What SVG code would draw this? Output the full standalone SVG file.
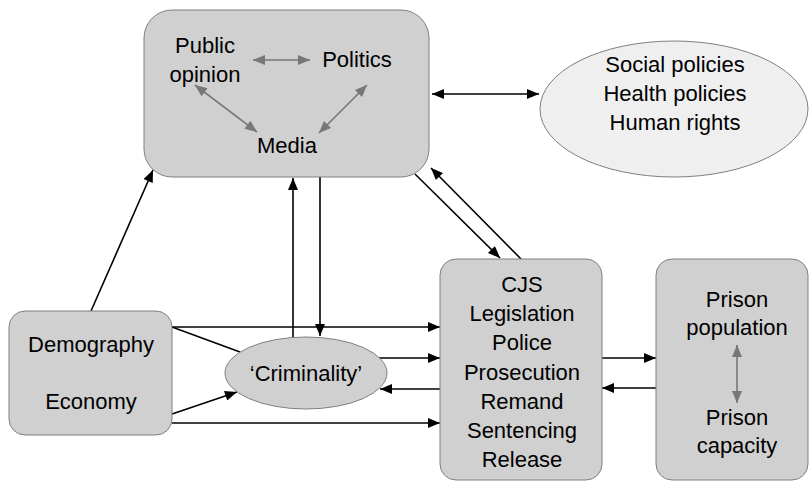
<svg xmlns="http://www.w3.org/2000/svg" width="810" height="482" viewBox="0 0 810 482">
<defs>
<style>
.box{fill:#d0d0d0;stroke:#7f7f7f;stroke-width:1}
.ell{fill:#efefef;stroke:#7f7f7f;stroke-width:1}
.t{font-family:"Liberation Sans",Arial,sans-serif;font-size:22px;fill:#000;text-anchor:middle}
.c{stroke:#000;stroke-width:1.6;fill:none}
.g{stroke:#777;stroke-width:1.6;fill:none}
</style>
<marker id="ab" viewBox="0 0 12 10" refX="12" refY="5" markerWidth="14" markerHeight="10" markerUnits="userSpaceOnUse" orient="auto-start-reverse"><path d="M0,0 L12,5 L0,10 z" fill="#000"/></marker>
<marker id="ag" viewBox="0 0 12 10" refX="12" refY="5" markerWidth="14" markerHeight="10" markerUnits="userSpaceOnUse" orient="auto-start-reverse"><path d="M0,0 L12,5 L0,10 z" fill="#777"/></marker>
</defs>
<rect width="810" height="482" fill="#fff"/>

<g id="connectors">
<line class="c" x1="432" y1="94" x2="539" y2="94" marker-start="url(#ab)" marker-end="url(#ab)"/>
<line class="c" x1="91" y1="311" x2="153" y2="170" marker-end="url(#ab)"/>
<line class="c" x1="293" y1="337" x2="293" y2="178" marker-end="url(#ab)"/>
<line class="c" x1="320" y1="177" x2="320" y2="336" marker-end="url(#ab)"/>
<line class="c" x1="415" y1="174" x2="500" y2="258" marker-end="url(#ab)"/>
<line class="c" x1="521" y1="259" x2="431" y2="168" marker-end="url(#ab)"/>
<line class="c" x1="172" y1="327" x2="440" y2="327" marker-end="url(#ab)"/>
<line class="c" x1="172" y1="327" x2="240" y2="352"/>
<line class="c" x1="378" y1="358" x2="440" y2="358" marker-end="url(#ab)"/>
<line class="c" x1="440" y1="389" x2="380" y2="389" marker-end="url(#ab)"/>
<line class="c" x1="172" y1="414" x2="237" y2="392" marker-end="url(#ab)"/>
<line class="c" x1="172" y1="423" x2="440" y2="423" marker-end="url(#ab)"/>
<line class="c" x1="602" y1="358" x2="656" y2="358" marker-end="url(#ab)"/>
<line class="c" x1="656" y1="388" x2="602" y2="388" marker-end="url(#ab)"/>
</g>

<g id="politics-box">
<rect class="box" x="144" y="10" width="285" height="167" rx="28"/>
<text class="t" x="205" y="53">Public</text>
<text class="t" x="205" y="82">opinion</text>
<text class="t" x="357" y="67">Politics</text>
<text class="t" x="287" y="153">Media</text>
<line class="g" x1="253" y1="60" x2="310" y2="60" marker-start="url(#ag)" marker-end="url(#ag)"/>
<line class="g" x1="195" y1="85" x2="257" y2="132" marker-start="url(#ag)" marker-end="url(#ag)"/>
<line class="g" x1="367" y1="85" x2="319" y2="133" marker-start="url(#ag)" marker-end="url(#ag)"/>
</g>

<g id="policies">
<ellipse class="ell" cx="674" cy="109" rx="134" ry="68"/>
<text class="t" x="675" y="72">Social policies</text>
<text class="t" x="675" y="101">Health policies</text>
<text class="t" x="675" y="130">Human rights</text>
</g>

<g id="demography">
<rect class="box" x="9" y="311" width="163" height="124" rx="16"/>
<text class="t" x="91" y="352">Demography</text>
<text class="t" x="91" y="409">Economy</text>
</g>

<g id="criminality">
<ellipse class="box" cx="306" cy="373" rx="81" ry="36"/>
<text class="t" x="306" y="381">‘Criminality’</text>
</g>

<g id="cjs">
<rect class="box" x="440" y="259" width="162" height="221" rx="16"/>
<text class="t" x="522" y="292">CJS</text>
<text class="t" x="522" y="321">Legislation</text>
<text class="t" x="522" y="350">Police</text>
<text class="t" x="522" y="380">Prosecution</text>
<text class="t" x="522" y="409">Remand</text>
<text class="t" x="522" y="438">Sentencing</text>
<text class="t" x="522" y="467">Release</text>
</g>

<g id="prison">
<rect class="box" x="656" y="259" width="152" height="221" rx="16"/>
<text class="t" x="737" y="307">Prison</text>
<text class="t" x="737" y="335">population</text>
<line class="g" x1="737" y1="345" x2="737" y2="403" marker-start="url(#ag)" marker-end="url(#ag)"/>
<text class="t" x="737" y="425">Prison</text>
<text class="t" x="737" y="453">capacity</text>
</g>
</svg>
